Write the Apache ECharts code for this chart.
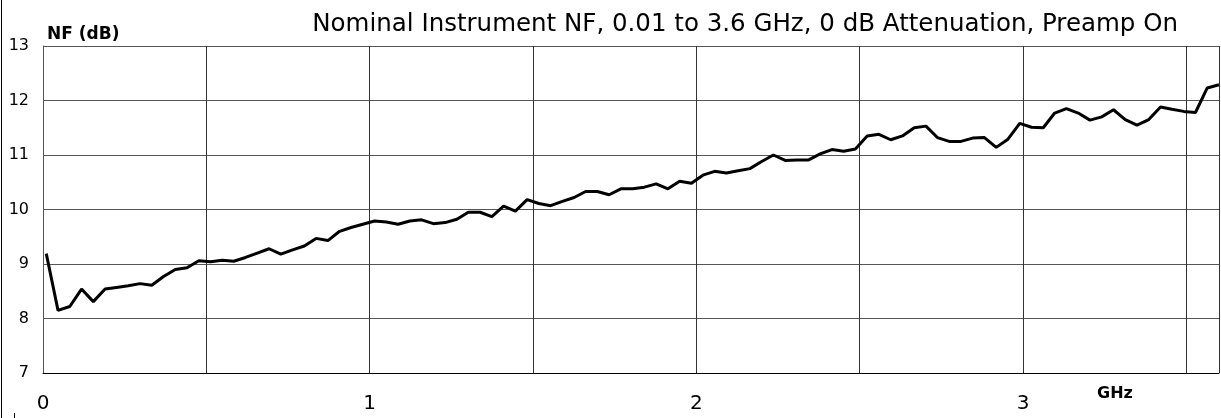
<!DOCTYPE html>
<html>
<head>
<meta charset="utf-8">
<script src="https://cdn.jsdelivr.net/npm/echarts@6/dist/echarts.min.js"></script>
<style>
html,body{margin:0;padding:0;background:#fff;}
#chart{width:1221px;height:418px;}
</style>
</head>
<body>
<div id="chart"></div>
<script>
const titleText = 'Nominal Instrument NF, 0.01 to 3.6 GHz, 0 dB Attenuation, Preamp On';
const yAxisName = 'NF (dB)';
const xAxisName = 'GHz';
const xTickLabels = ['0', '1', '2', '3'];

const freqGHz = [
  0.010, 0.046, 0.082, 0.118, 0.154, 0.190, 0.225, 0.261, 0.297, 0.333,
  0.369, 0.405, 0.441, 0.477, 0.513, 0.549, 0.584, 0.620, 0.656, 0.692,
  0.728, 0.764, 0.800, 0.836, 0.872, 0.908, 0.943, 0.979, 1.015, 1.051,
  1.087, 1.123, 1.159, 1.195, 1.231, 1.267, 1.302, 1.338, 1.374, 1.410,
  1.446, 1.482, 1.518, 1.554, 1.590, 1.626, 1.661, 1.697, 1.733, 1.769,
  1.805, 1.841, 1.877, 1.913, 1.949, 1.985, 2.020, 2.056, 2.092, 2.128,
  2.164, 2.200, 2.236, 2.272, 2.308, 2.344, 2.379, 2.415, 2.451, 2.487,
  2.523, 2.559, 2.595, 2.631, 2.667, 2.703, 2.738, 2.774, 2.810, 2.846,
  2.882, 2.918, 2.954, 2.990, 3.026, 3.062, 3.097, 3.133, 3.169, 3.205,
  3.241, 3.277, 3.313, 3.349, 3.385, 3.421, 3.456, 3.492, 3.528, 3.564,
  3.600
];

const nfDb = [
  9.19, 8.15, 8.22, 8.54, 8.31, 8.54, 8.57, 8.60, 8.64, 8.61,
  8.77, 8.90, 8.93, 9.06, 9.04, 9.07, 9.05, 9.12, 9.20, 9.28,
  9.18, 9.26, 9.33, 9.47, 9.43, 9.60, 9.67, 9.73, 9.79, 9.77,
  9.73, 9.79, 9.81, 9.74, 9.76, 9.82, 9.95, 9.95, 9.87, 10.06,
  9.97, 10.18, 10.11, 10.07, 10.15, 10.22, 10.33, 10.33, 10.27, 10.38,
  10.38, 10.41, 10.47, 10.38, 10.52, 10.48, 10.63, 10.70, 10.67, 10.71,
  10.75, 10.88, 11.00, 10.90, 10.91, 10.91, 11.02, 11.10, 11.07, 11.11,
  11.35, 11.38, 11.28, 11.35, 11.50, 11.53, 11.32, 11.25, 11.25, 11.31,
  11.32, 11.14, 11.29, 11.58, 11.51, 11.50, 11.77, 11.85, 11.77, 11.64,
  11.70, 11.83, 11.65, 11.55, 11.65, 11.88, 11.84, 11.80, 11.78, 12.23,
  12.29
];

const seriesData = freqGHz.map((f, i) => [f, nfDb[i]]);

const chart = echarts.init(document.getElementById('chart'), null, {renderer: 'canvas'});
chart.setOption({
  animation: false,
  backgroundColor: '#ffffff',
  title: {
    text: titleText,
    right: 38,
    top: 7,
    textStyle: {
      fontFamily: 'DejaVu Sans',
      fontSize: 24.5,
      fontWeight: 'normal',
      color: '#000'
    }
  },
  grid: {left: 43, right: 2, top: 46, bottom: 45, containLabel: false},
  xAxis: {
    type: 'value',
    min: 0,
    max: 3.6,
    interval: 0.5,
    name: xAxisName,
    nameLocation: 'end',
    nameGap: -122,
    nameTextStyle: {
      fontFamily: 'DejaVu Sans',
      fontWeight: 'bold',
      fontSize: 16,
      color: '#000',
      verticalAlign: 'top',
      padding: [13, 0, 0, 0]
    },
    axisLine: {show: true, lineStyle: {color: '#000', width: 1}},
    axisTick: {show: false},
    splitLine: {show: true, lineStyle: {color: '#333', width: 1}},
    axisLabel: {
      margin: 21,
      fontFamily: 'DejaVu Sans',
      fontSize: 20,
      color: '#000',
      showMaxLabel: false,
      formatter: function (v) {
        const s = String(Math.round(v * 1000) / 1000);
        return xTickLabels.indexOf(s) >= 0 ? s : '';
      }
    }
  },
  yAxis: {
    type: 'value',
    min: 7,
    max: 13,
    interval: 1,
    name: yAxisName,
    nameLocation: 'end',
    nameGap: 3,
    nameTextStyle: {
      fontFamily: 'DejaVu Sans',
      fontWeight: 'bold',
      fontSize: 17,
      color: '#000',
      align: 'left',
      padding: [0, 0, 0, 4]
    },
    axisLine: {show: true, lineStyle: {color: '#555', width: 1}},
    axisTick: {show: false},
    splitLine: {show: true, lineStyle: {color: '#555', width: 1}},
    axisLabel: {
      margin: 14,
      fontFamily: 'DejaVu Sans',
      fontSize: 16,
      color: '#000'
    }
  },
  graphic: [
    {type: 'line', shape: {x1: 1.5, y1: 0, x2: 1.5, y2: 418}, style: {stroke: '#000', lineWidth: 1}, silent: true},
    {type: 'line', shape: {x1: 14.5, y1: 413, x2: 14.5, y2: 418}, style: {stroke: '#000', lineWidth: 1}, silent: true}
  ],
  series: [{
    type: 'line',
    data: seriesData,
    showSymbol: false,
    symbol: 'none',
    lineStyle: {color: '#000', width: 3},
    itemStyle: {color: '#000'}
  }]
});
</script>
</body>
</html>
